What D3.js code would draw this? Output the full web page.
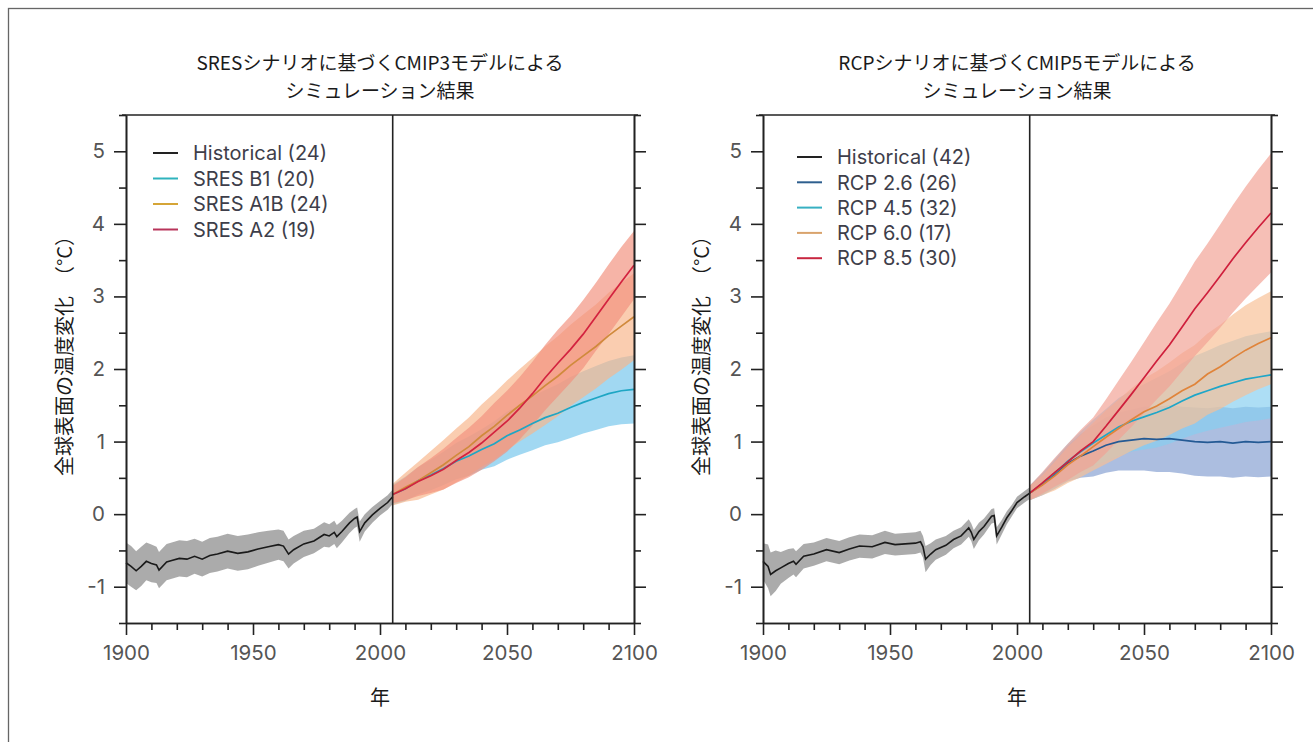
<!DOCTYPE html>
<html>
<head>
<meta charset="utf-8">
<script src="https://cdn.jsdelivr.net/npm/d3@7"></script>
<style>
  body { margin: 0; background: #fff; }
  svg { display: block; }
</style>
</head>
<body>
<div id="chart"></div>
<script>
// ---- data ----
const cmip3HistYears = [1900,1902,1904,1906,1908,1910,1912,1913,1916,1918,1921,1924,1927,1930,1933,1936,1940,1944,1948,1952,1956,1960,1962,1964,1966,1970,1974,1978,1980,1982,1983,1985,1988,1990,1991,1992,1994,1997,2000,2003,2005];
const cmip3Hist = [-0.67,-0.72,-0.78,-0.72,-0.65,-0.68,-0.70,-0.77,-0.66,-0.64,-0.61,-0.62,-0.58,-0.62,-0.57,-0.55,-0.51,-0.54,-0.52,-0.48,-0.45,-0.42,-0.44,-0.55,-0.49,-0.41,-0.37,-0.28,-0.30,-0.25,-0.31,-0.24,-0.12,-0.06,-0.04,-0.24,-0.12,-0.01,0.08,0.16,0.24];
const cmip3HistSpread = [0.28,0.28,0.27,0.27,0.26,0.26,0.25,0.25,0.25,0.25,0.25,0.25,0.24,0.24,0.24,0.24,0.24,0.24,0.24,0.23,0.22,0.21,0.21,0.2,0.19,0.18,0.17,0.17,0.16,0.16,0.16,0.15,0.14,0.13,0.13,0.14,0.12,0.11,0.1,0.1,0.1];

const cmip5HistYears = [1900,1902,1903,1905,1907,1910,1912,1913,1916,1920,1925,1930,1934,1938,1943,1948,1952,1956,1960,1962,1963,1964,1966,1968,1972,1975,1978,1981,1982,1983,1985,1987,1990,1991,1992,1994,1996,1998,2000,2003,2005];
const cmip5Hist = [-0.65,-0.72,-0.83,-0.78,-0.74,-0.68,-0.65,-0.69,-0.58,-0.55,-0.49,-0.53,-0.48,-0.44,-0.45,-0.39,-0.42,-0.41,-0.40,-0.38,-0.45,-0.62,-0.55,-0.49,-0.43,-0.35,-0.30,-0.19,-0.25,-0.35,-0.24,-0.17,-0.03,-0.02,-0.30,-0.18,-0.05,0.05,0.16,0.24,0.29];
const cmip5HistSpread = [0.25,0.3,0.3,0.28,0.22,0.2,0.18,0.18,0.17,0.16,0.16,0.16,0.16,0.16,0.16,0.16,0.15,0.15,0.15,0.15,0.15,0.18,0.15,0.14,0.13,0.12,0.12,0.12,0.12,0.13,0.12,0.11,0.1,0.1,0.12,0.1,0.09,0.08,0.08,0.08,0.08];

const projYears = [2005,2010,2015,2020,2025,2030,2035,2040,2045,2050,2055,2060,2065,2070,2075,2080,2085,2090,2095,2100];

const sresB1 = [0.27,0.35,0.46,0.54,0.63,0.73,0.80,0.89,0.97,1.08,1.16,1.25,1.33,1.39,1.47,1.54,1.60,1.66,1.70,1.72];
const sresB1Spread = [0.14,0.17,0.19,0.21,0.23,0.25,0.27,0.28,0.31,0.33,0.34,0.37,0.38,0.40,0.42,0.43,0.44,0.45,0.46,0.47];
const sresA1B = [0.27,0.37,0.46,0.57,0.68,0.81,0.93,1.08,1.21,1.36,1.50,1.63,1.77,1.90,2.05,2.18,2.31,2.46,2.59,2.72];
const sresA1BSpread = [0.15,0.2,0.26,0.3,0.34,0.37,0.4,0.43,0.46,0.48,0.5,0.52,0.54,0.55,0.56,0.57,0.58,0.59,0.6,0.6];
const sresA2 = [0.27,0.35,0.45,0.53,0.62,0.74,0.85,0.98,1.13,1.28,1.46,1.66,1.88,2.08,2.27,2.48,2.72,2.96,3.20,3.43];
const sresA2Spread = [0.12,0.16,0.2,0.24,0.28,0.31,0.34,0.37,0.4,0.42,0.43,0.44,0.45,0.46,0.46,0.47,0.47,0.48,0.48,0.47];

const rcp26 = [0.29,0.41,0.55,0.70,0.80,0.87,0.95,1.00,1.02,1.04,1.03,1.04,1.02,1.00,0.99,1.00,0.98,1.00,0.99,1.00];
const rcp26Spread = [0.1,0.15,0.2,0.25,0.3,0.35,0.38,0.4,0.42,0.44,0.45,0.46,0.46,0.47,0.47,0.48,0.48,0.48,0.48,0.48];
const rcp45 = [0.29,0.42,0.57,0.73,0.86,0.98,1.09,1.20,1.28,1.34,1.40,1.47,1.56,1.64,1.70,1.76,1.81,1.86,1.89,1.92];
const rcp45Spread = [0.1,0.15,0.2,0.24,0.28,0.32,0.36,0.4,0.42,0.45,0.48,0.5,0.52,0.54,0.55,0.57,0.58,0.59,0.6,0.6];
const rcp60 = [0.29,0.40,0.53,0.68,0.80,0.93,1.06,1.18,1.30,1.41,1.49,1.59,1.70,1.79,1.93,2.03,2.15,2.26,2.35,2.43];
const rcp60Spread = [0.1,0.14,0.2,0.25,0.29,0.33,0.37,0.4,0.43,0.46,0.48,0.5,0.52,0.54,0.56,0.58,0.6,0.62,0.63,0.64];
const rcp85 = [0.29,0.43,0.58,0.72,0.87,1.00,1.21,1.43,1.65,1.88,2.11,2.33,2.58,2.83,3.05,3.28,3.52,3.74,3.95,4.15];
const rcp85Spread = [0.1,0.15,0.2,0.25,0.29,0.33,0.37,0.41,0.45,0.49,0.53,0.57,0.61,0.65,0.68,0.71,0.74,0.77,0.8,0.82];

const yTickValues = [-1, 0, 1, 2, 3, 4, 5];
const xTickValues = [1900, 1950, 2000, 2050, 2100];

const panels = [
  {
    title: ["SRESシナリオに基づくCMIP3モデルによる", "シミュレーション結果"],
    histYears: cmip3HistYears, hist: cmip3Hist, histSpread: cmip3HistSpread, histLabel: "Historical (24)",
    scenarios: [
      { label: "SRES B1 (20)",  values: sresB1,  spread: sresB1Spread,  line: "#1ea6c4", band: "#74c6ec" },
      { label: "SRES A1B (24)", values: sresA1B, spread: sresA1BSpread, line: "#d08a3c", band: "#f7b58a" },
      { label: "SRES A2 (19)",  values: sresA2,  spread: sresA2Spread,  line: "#d3233f", band: "#f1907e" }
    ],
    legendColors: ["#222", "#2fb3bd", "#d5a537", "#b8345a"]
  },
  {
    title: ["RCPシナリオに基づくCMIP5モデルによる", "シミュレーション結果"],
    histYears: cmip5HistYears, hist: cmip5Hist, histSpread: cmip5HistSpread, histLabel: "Historical (42)",
    scenarios: [
      { label: "RCP 2.6 (26)", values: rcp26, spread: rcp26Spread, line: "#245a94", band: "#849fd2" },
      { label: "RCP 4.5 (32)", values: rcp45, spread: rcp45Spread, line: "#1ea6c8", band: "#86cff0" },
      { label: "RCP 6.0 (17)", values: rcp60, spread: rcp60Spread, line: "#e0843a", band: "#f8bf95" },
      { label: "RCP 8.5 (30)", values: rcp85, spread: rcp85Spread, line: "#cf1f3c", band: "#f2a193" }
    ],
    legendColors: ["#222", "#2e5f8e", "#37b0c2", "#d9a36c", "#c82640"]
  }
];

// ---- layout ----
const width = 1313, height = 742;
const plotTop = 115, plotBottom = 623;
const panelX = [[126, 634], [763, 1271]];
const legendTop = [153, 157];
const legendStep = [25.5, 25.3];
const legendOffset = [27, 34];
const tickFont = "Inter, 'Open Sans', sans-serif";
const jpFont = "'Noto Sans CJK JP', sans-serif";

const svg = d3.select("#chart").append("svg")
  .attr("width", width)
  .attr("height", height)
  .attr("viewBox", [0, 0, width, height]);

svg.append("rect")
  .attr("x", 8.5).attr("y", 8.5)
  .attr("width", width + 20).attr("height", height + 20)
  .attr("fill", "none").attr("stroke", "#666").attr("stroke-width", 1.3);

const y = d3.scaleLinear().domain([-1.5, 5.5]).range([plotBottom, plotTop]);

function drawPanel(panel, i) {
  const [x0, x1] = panelX[i];
  const x = d3.scaleLinear().domain([1900, 2100]).range([x0, x1]);
  const cx = (x0 + x1) / 2;
  const g = svg.append("g");

  // two-line title
  g.append("text")
    .attr("text-anchor", "middle")
    .attr("font-family", jpFont).attr("font-size", "19px").attr("fill", "#1a1a1a")
    .selectAll("tspan")
    .data(panel.title)
    .join("tspan")
    .attr("x", cx)
    .attr("y", (d, k) => 63 + k * 28)
    .attr("dy", "0.35em")
    .text(d => d);

  // bands
  const histRows = panel.histYears.map((yr, k) => ({ yr, v: panel.hist[k], s: panel.histSpread[k] }));
  const area = d3.area()
    .x(d => x(d.yr))
    .y0(d => y(d.v - d.s))
    .y1(d => y(d.v + d.s));
  const line = d3.line()
    .x(d => x(d.yr))
    .y(d => y(d.v));

  g.append("path")
    .datum(histRows)
    .attr("d", area)
    .attr("fill", "#9c9c9c")
    .attr("opacity", 0.85);

  const scenRows = panel.scenarios.map(sc =>
    projYears.map((yr, k) => ({ yr, v: sc.values[k], s: sc.spread[k] })));

  panel.scenarios.forEach((sc, k) => {
    g.append("path")
      .datum(scenRows[k])
      .attr("d", area)
      .attr("fill", sc.band)
      .attr("opacity", 0.68);
  });

  g.append("path")
    .datum(histRows)
    .attr("d", line)
    .attr("fill", "none")
    .attr("stroke", "#1a1a1a")
    .attr("stroke-width", 1.6);

  panel.scenarios.forEach((sc, k) => {
    g.append("path")
      .datum(scenRows[k])
      .attr("d", line)
      .attr("fill", "none")
      .attr("stroke", sc.line)
      .attr("stroke-width", 1.7);
  });

  // frame
  g.append("line")
    .attr("x1", x0 - 4).attr("x2", x1 + 4)
    .attr("y1", plotTop).attr("y2", plotTop)
    .attr("stroke", "#222").attr("stroke-width", 1.6);
  g.append("line")
    .attr("x1", x(2005)).attr("x2", x(2005))
    .attr("y1", plotTop).attr("y2", plotBottom)
    .attr("stroke", "#222").attr("stroke-width", 1.6);

  const minorY = d3.range(-1.5, 5.51, 0.5).filter(v => !Number.isInteger(v));

  const styleAxis = sel => {
    sel.select(".domain").attr("stroke", "#222").attr("stroke-width", 1.6);
    sel.selectAll(".tick line").attr("stroke", "#222").attr("stroke-width", 1.6);
    sel.selectAll(".tick text")
      .attr("fill", "#555")
      .attr("font-family", tickFont)
      .attr("font-size", "20.5px");
  };

  g.append("g")
    .attr("transform", `translate(${x0},0)`)
    .call(d3.axisLeft(y).tickValues(yTickValues).tickSize(12).tickSizeOuter(0)
      .tickPadding(9).tickFormat(d => String(d)))
    .call(styleAxis);
  g.append("g")
    .attr("transform", `translate(${x0},0)`)
    .call(d3.axisLeft(y).tickValues(minorY).tickSize(7).tickSizeOuter(0).tickFormat(""))
    .call(styleAxis);

  g.append("g")
    .attr("transform", `translate(${x1},0)`)
    .call(d3.axisRight(y).tickValues(yTickValues).tickSize(12).tickSizeOuter(0).tickFormat(""))
    .call(styleAxis);
  g.append("g")
    .attr("transform", `translate(${x1},0)`)
    .call(d3.axisRight(y).tickValues(minorY).tickSize(7).tickSizeOuter(0).tickFormat(""))
    .call(styleAxis);

  g.append("g")
    .attr("transform", `translate(0,${plotBottom})`)
    .call(d3.axisBottom(x).tickValues(xTickValues).tickSize(12).tickSizeOuter(0)
      .tickPadding(10).tickFormat(d => String(d)))
    .call(styleAxis);
  g.append("g")
    .attr("transform", `translate(0,${plotBottom})`)
    .call(d3.axisBottom(x).tickValues(d3.range(1910, 2100, 10).filter(v => v % 50 !== 0))
      .tickSize(7).tickSizeOuter(0).tickFormat(""))
    .call(styleAxis);

  // axis titles
  g.append("text")
    .attr("transform", `translate(${x0 - 61},351) rotate(-90)`)
    .attr("text-anchor", "middle").attr("dy", "0.35em")
    .attr("font-family", jpFont).attr("font-size", "20px").attr("fill", "#1a1a1a")
    .text("全球表面の温度変化　（°C）");
  g.append("text")
    .attr("x", cx).attr("y", 698).attr("dy", "0.35em")
    .attr("text-anchor", "middle")
    .attr("font-family", jpFont).attr("font-size", "20px").attr("fill", "#1a1a1a")
    .text("年");

  // legend
  const labels = [panel.histLabel].concat(panel.scenarios.map(s => s.label));
  const lg = g.append("g")
    .attr("transform", `translate(${x0 + legendOffset[i]},${legendTop[i]})`);
  const rows = lg.selectAll("g")
    .data(labels)
    .join("g")
    .attr("transform", (d, k) => `translate(0,${k * legendStep[i]})`);
  rows.append("line")
    .attr("x1", 0).attr("x2", 25)
    .attr("stroke", (d, k) => panel.legendColors[k])
    .attr("stroke-width", 2);
  rows.append("text")
    .attr("x", 40).attr("dy", "0.36em")
    .attr("font-family", tickFont).attr("font-size", "20px")
    .attr("fill", "#3e3e4a")
    .text(d => d);
}

panels.forEach(drawPanel);
</script>
</body>
</html>
